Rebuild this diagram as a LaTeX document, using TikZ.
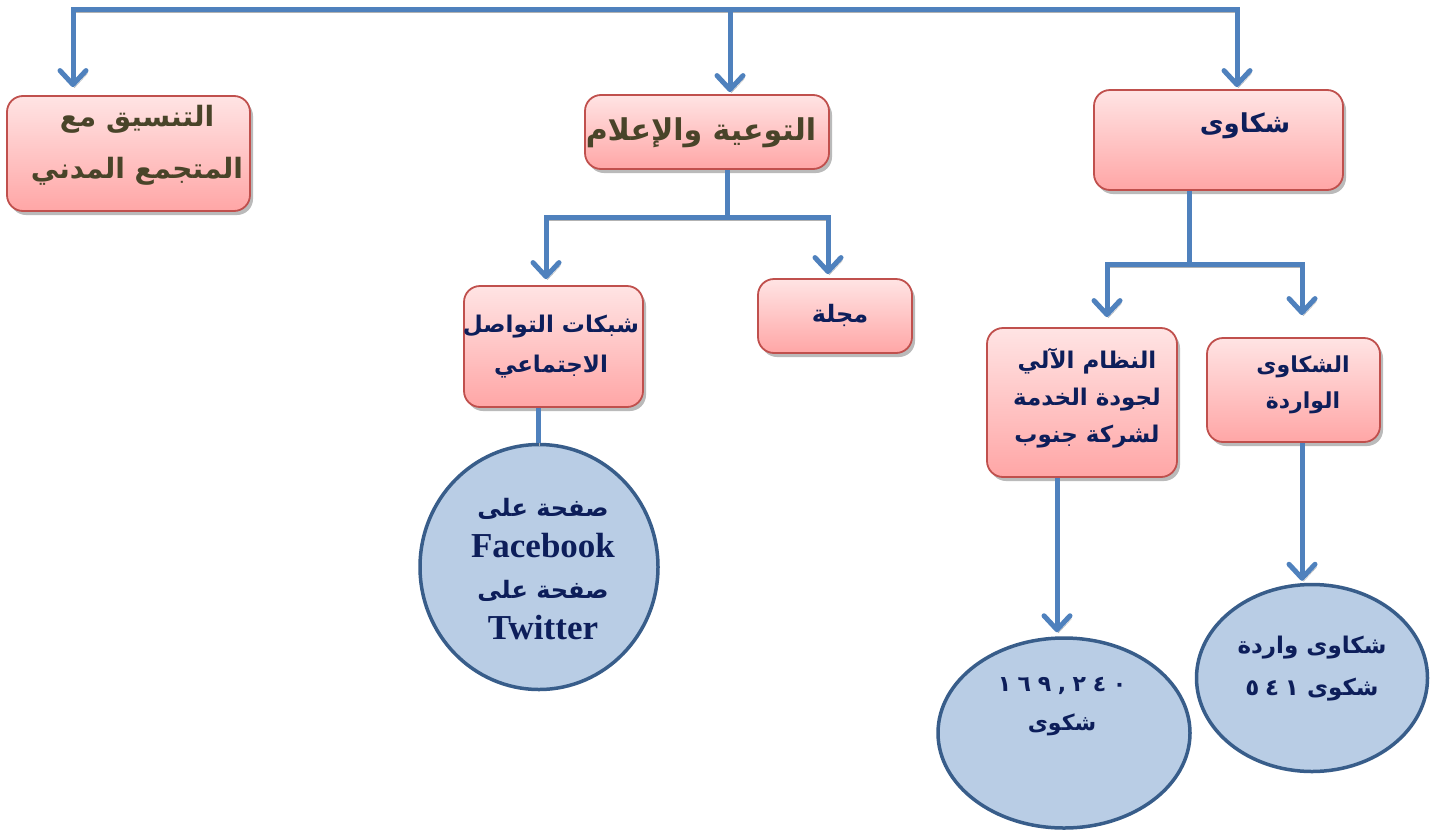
\documentclass[tikz,border=0pt]{standalone}
\usepackage{fontspec}
\usetikzlibrary{arrows.meta,shapes.geometric,shadows}
\TeXXeTstate=1
\newfontfamily\arabicfont[Script=Arabic]{DejaVu Sans}
\newfontfamily\latinserif{Liberation Serif}
\newcommand\rtl[1]{\beginR #1\endR}
\definecolor{linec}{RGB}{79,129,189}
\definecolor{boxborder}{RGB}{192,80,77}
\definecolor{boxtop}{RGB}{255,228,228}
\definecolor{boxbot}{RGB}{255,166,166}
\definecolor{ellfill}{RGB}{185,205,229}
\definecolor{elldraw}{RGB}{56,93,138}
\definecolor{olivetext}{RGB}{73,68,41}
\definecolor{navytext}{RGB}{13,30,90}
\begin{document}
\begin{tikzpicture}[x=1pt,y=-1pt,
  conn/.style={draw=linec, line width=5pt, line join=miter,
    preaction={draw=black!30, transform canvas={shift={(1.5pt,-3pt)}}}},
  arr/.style={conn, -{Straight Barb[length=14pt,width=26pt,round]}},
  plain/.style={conn},
  box/.style 2 args={rectangle, rounded corners=16pt, draw=boxborder, line width=1.8pt,
    top color=boxtop, bottom color=boxbot, minimum width=#1, minimum height=#2,
    drop shadow={shadow xshift=3pt, shadow yshift=-4pt, opacity=0.45, fill=black!60}},
  ell/.style 2 args={ellipse, draw=elldraw, fill=ellfill, line width=3.5pt,
    minimum width=#1, minimum height=#2, inner sep=0pt},
  txt/.style={align=center, inner sep=0pt, font=\arabicfont\bfseries},
  digits/.style={},
]
\fill[white] (0,0) rectangle (1437,830);
\useasboundingbox (0,0) rectangle (1437,830);

% boxes
\node[box={243pt}{115pt}] (A) at (128.5,153.5) {};
\node[box={244pt}{74pt}]  (B) at (707,132) {};
\node[box={249pt}{100pt}] (C) at (1218.5,140) {};
\node[box={179pt}{121pt}] (D) at (553.5,346.5) {};
\node[box={154pt}{74pt}]  (E) at (835,316) {};
\node[box={190pt}{149pt}] (F) at (1082,402.5) {};
\node[box={173pt}{104pt}] (G) at (1293.5,390) {};
% ellipses
\node[ell={238pt}{245pt}] (H) at (539,567) {};
\node[ell={252pt}{190pt}] (I) at (1064,733) {};
\node[ell={231pt}{187pt}] (J) at (1312,678) {};

% texts
\node[txt, text=olivetext, font=\arabicfont\bfseries\fontsize{28}{52}\selectfont] (At) at (137,145)
  {\rtl{التنسيق مع}\\\rtl{المتجمع المدني}};
\node[txt, text=olivetext, font=\arabicfont\bfseries\fontsize{30}{40}\selectfont] (Bt) at (701,133)
  {\rtl{التوعية والإعلام}};
\node[txt, text=navytext, font=\arabicfont\bfseries\fontsize{26}{36}\selectfont] (Ct) at (1245,126)
  {\rtl{شكاوى}};
\node[txt, text=navytext, font=\arabicfont\bfseries\fontsize{23}{40}\selectfont] (Dt) at (551,347)
  {\rtl{شبكات التواصل}\\\rtl{الاجتماعي}};
\node[txt, text=navytext, font=\arabicfont\bfseries\fontsize{24}{36}\selectfont] (Et) at (840,315)
  {\rtl{مجلة}};
\node[txt, text=navytext, font=\arabicfont\bfseries\fontsize{23}{37}\selectfont] (Ft) at (1087,398)
  {\rtl{النظام الآلي}\\\rtl{لجودة الخدمة}\\\rtl{لشركة جنوب}};
\node[txt, text=navytext, font=\arabicfont\bfseries\fontsize{22}{36}\selectfont] (Gt) at (1303,385)
  {\rtl{الشكاوى}\\\rtl{الواردة}};
\node[txt, text=navytext, font=\bfseries\fontsize{24}{41}\selectfont] (Ht) at (543,569)
  {{\arabicfont\rtl{صفحة على}}\\{\latinserif\fontsize{35}{41}\selectfont Facebook}\\{\arabicfont\rtl{صفحة على}}\\{\latinserif\fontsize{35}{41}\selectfont Twitter}};
\node[txt, text=navytext, font=\arabicfont\bfseries\fontsize{22}{39}\selectfont] (It) at (1062,707)
  {\beginL{\addfontfeature{LetterSpace=30}١٦٩,٢٤٠}\endL\\\rtl{شكوى}};
\node[txt, text=navytext, font=\arabicfont\bfseries\fontsize{23}{42}\selectfont] (Jt) at (1312,669)
  {\rtl{شكاوى واردة}\\\rtl{شكوى \beginL{\addfontfeature{LetterSpace=25}٥٤١}\endL}};

% top bus
\coordinate (t1) at (73,9);
\coordinate (t2) at (730,9);
\coordinate (t3) at (1237,9);
\draw[arr, shorten >=8pt] (t2) -- (t1) -- (t1 |- A.north);
\draw[arr, shorten >=2pt] (t2) -- (t3) -- (t3 |- C.north);
\draw[arr, shorten >=2pt] (t2) -- (t2 |- B.north);

% B children
\coordinate (bj) at (727,217);
\coordinate (bl) at (546,217);
\coordinate (br) at (828,217);
\draw[arr, shorten >=6pt] (bj |- B.south) -- (bj) -- (bl) -- (bl |- D.north);
\draw[arr, shorten >=4pt] (bj |- B.south) -- (bj) -- (br) -- (br |- E.north);

% C children
\coordinate (cj) at (1189,264);
\coordinate (cl) at (1107,264);
\coordinate (cr) at (1302,264);
\draw[arr, shorten >=10pt] (cj |- C.south) -- (cj) -- (cl) -- (cl |- F.north);
\draw[arr, shorten >=22pt] (cj |- C.south) -- (cj) -- (cr) -- (cr |- G.north);

% leaves
\coordinate (dx) at (538,0);
\draw[plain] (dx |- D.south) -- (dx |- H.north);
\coordinate (fx) at (1057,0);
\draw[arr, shorten >=4pt] (fx |- F.south) -- (fx |- I.north);
\coordinate (gx) at (1302,0);
\draw[arr, shorten >=2pt] (gx |- G.south) -- (gx |- J.north);
\end{tikzpicture}
\end{document}
